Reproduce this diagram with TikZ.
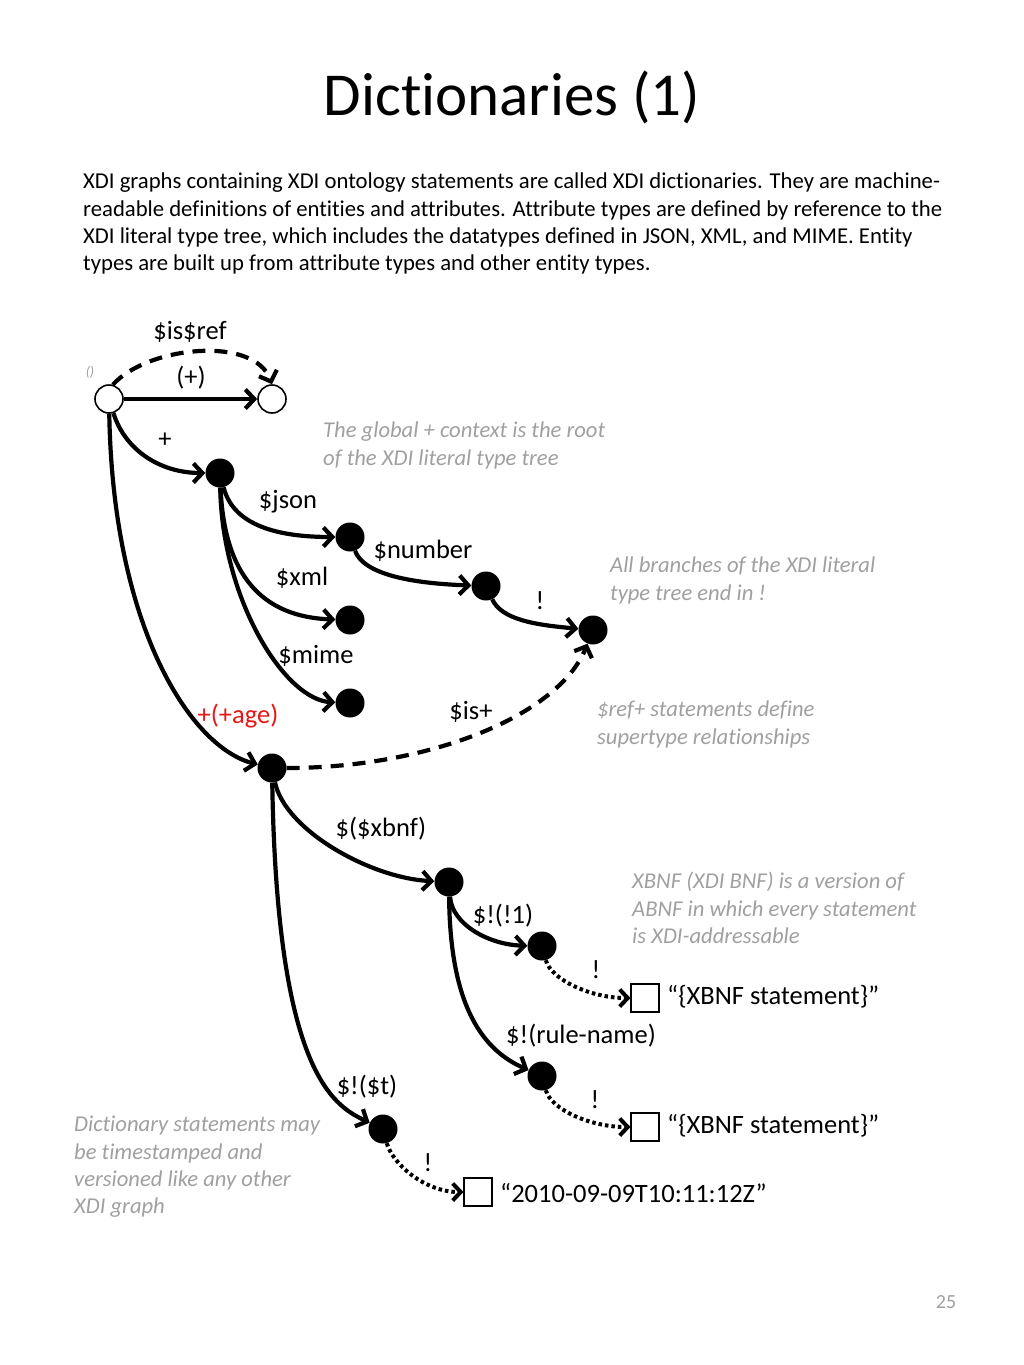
\documentclass[tikz,border=0pt]{standalone}
\usepackage{fontspec}
\setmainfont{Carlito}[Ligatures=NoCommon]
\usetikzlibrary{arrows.meta}
\definecolor{notegray}{RGB}{160,160,160}
\definecolor{labred}{RGB}{232,22,22}
\begin{document}
\begin{tikzpicture}[x=1pt,y=-1pt,
  open/.style={circle,draw,line width=1.6pt,fill=white,minimum size=28pt,inner sep=0pt},
  full/.style={circle,fill=black,minimum size=29pt,inner sep=0pt},
  lbox/.style={draw,line width=1.1pt,minimum size=28pt,inner sep=0pt,fill=white},
  edge/.style={line width=4.2pt,-{Straight Barb[length=9pt,width=19pt]}},
  dedge/.style={edge,dash pattern=on 13pt off 9pt},
  dotedge/.style={line width=4pt,dash pattern=on 3.5pt off 3pt,-{Straight Barb[length=8pt,width=17pt]}},
  lab/.style={font=\fontsize{26.5}{30}\selectfont,inner sep=0pt},
  note/.style={font=\fontsize{22.6}{27.3}\selectfont\itshape,text=notegray,align=left,anchor=north west,inner sep=0pt},
  body/.style={font=\fontsize{22.7}{27.1}\selectfont,align=left,anchor=north west,inner sep=0pt}
]
\useasboundingbox[fill=white] (0,0) rectangle (1024,1365);
% title
\node[font=\fontsize{61}{66}\selectfont,inner sep=0pt] (title) at (512,97) {Dictionaries (1)};
\node[body] (bodytext) at (83,173) {XDI graphs containing XDI ontology statements are called XDI dictionaries. They are machine-\\
readable definitions of entities and attributes. Attribute types are defined by reference to the\\
XDI literal type tree, which includes the datatypes defined in JSON, XML, and MIME. Entity\\
types are built up from attribute types and other entity types.};
\node[font=\fontsize{20}{22}\selectfont,text=notegray,inner sep=0pt] (pagenum) at (946,1302) {25};

% nodes
\node[open] (root) at (109,399) {};
\node[open] (r2) at (272,399) {};
\node[full] (plus) at (220,473) {};
\node[full] (json) at (350,537) {};
\node[full] (number) at (486,586) {};
\node[full] (excl) at (593,630) {};
\node[full] (xml) at (350,620) {};
\node[full] (mime) at (350,703) {};
\node[full] (age) at (272,768) {};
\node[full] (xbnf) at (449,882) {};
\node[full] (e1) at (542,946) {};
\node[full] (rn) at (542,1076) {};
\node[full] (t) at (383,1129) {};
\node[lbox] (box1) at (645,998) {};
\node[lbox] (box2) at (645,1127) {};
\node[lbox] (box3) at (478,1192) {};

% literal texts
\node[lab,anchor=west] (lit1) at (667,997) {“\{XBNF statement\}”};
\node[lab,anchor=west] (lit2) at (667,1126) {“\{XBNF statement\}”};
\node[lab,anchor=west] (lit3) at (500,1193) {“2010-09-09T10:11:12Z”};

% edges
\draw[edge] (root) -- (r2);
\draw[dedge] (root.75) to[out=48,in=110,out distance=52pt,in distance=52pt] (r2.north);
\draw[edge] (root) .. controls (125,450) and (160,473) .. (plus);
\draw[edge] (root) .. controls (113,630) and (192,748) .. (age);
\draw[edge] (plus) .. controls (234,529) and (286,537) .. (json);
\draw[edge] (plus) .. controls (224,575) and (262,617) .. (xml);
\draw[edge] (plus) .. controls (222,600) and (285,700) .. (mime);
\draw[edge] (json) to[out=-70,in=178,out distance=25pt,in distance=60pt] (number);
\draw[edge] (number) to[out=-65,in=175,out distance=22pt,in distance=45pt] (excl);
\draw[dedge] (age) .. controls (426,768) and (558,717) .. (excl);
\draw[edge] (age) .. controls (285,830) and (370,878) .. (xbnf);
\draw[edge] (age) .. controls (277,1070) and (332,1105) .. (t);
\draw[edge] (xbnf) .. controls (452,925) and (490,945) .. (e1);
\draw[edge] (xbnf) .. controls (450,1010) and (485,1051) .. (rn);
\draw[dotedge] (e1) to[out=-75,in=180,out distance=20pt,in distance=40pt] (box1);
\draw[dotedge] (rn) to[out=-75,in=180,out distance=20pt,in distance=40pt] (box2);
\draw[dotedge] (t) to[out=-75,in=180,out distance=20pt,in distance=40pt] (box3);

% edge labels
\node[lab] (l-isref) at (190,332) {\$is\$ref};
\node[lab] (l-plusp) at (191,378) {(+)};
\node[lab] (l-plus) at (165,440) {+};
\node[lab] (l-json) at (288,502) {\$json};
\node[lab] (l-xml) at (302,578) {\$xml};
\node[lab] (l-mime) at (316,656) {\$mime};
\node[lab] (l-number) at (423,551) {\$number};
\node[lab] (l-excl) at (540,601) {!};
\node[lab,text=labred] (l-age) at (238,716) {+(+age)};
\node[lab] (l-isplus) at (471,712) {\$is+};
\node[lab] (l-xbnf) at (381,829) {\$(\$xbnf)};
\node[lab] (l-e1) at (503,916) {\$!(!1)};
\node[lab] (l-rn) at (581,1036) {\$!(rule-name)};
\node[lab] (l-t) at (367,1087) {\$!(\$t)};
\node[lab] (l-d1) at (596,970) {!};
\node[lab] (l-d2) at (595,1100) {!};
\node[lab] (l-d3) at (428,1163) {!};

% notes
\node[font=\fontsize{14}{16}\selectfont\itshape,text=notegray,inner sep=0pt] (n-root) at (90,372) {()};
\node[note] (n1) at (323,422) {The global + context is the root\\of the XDI literal type tree};
\node[note] (n2) at (610,557) {All branches of the XDI literal\\type tree end in !};
\node[note] (n3) at (597,701) {\$ref+ statements define\\supertype relationships};
\node[note] (n4) at (632,872) {XBNF (XDI BNF) is a version of\\ABNF in which every statement\\is XDI-addressable};
\node[note] (n5) at (74,1116) {Dictionary statements may\\be timestamped and\\versioned like any other\\XDI graph};
\end{tikzpicture}
\end{document}
